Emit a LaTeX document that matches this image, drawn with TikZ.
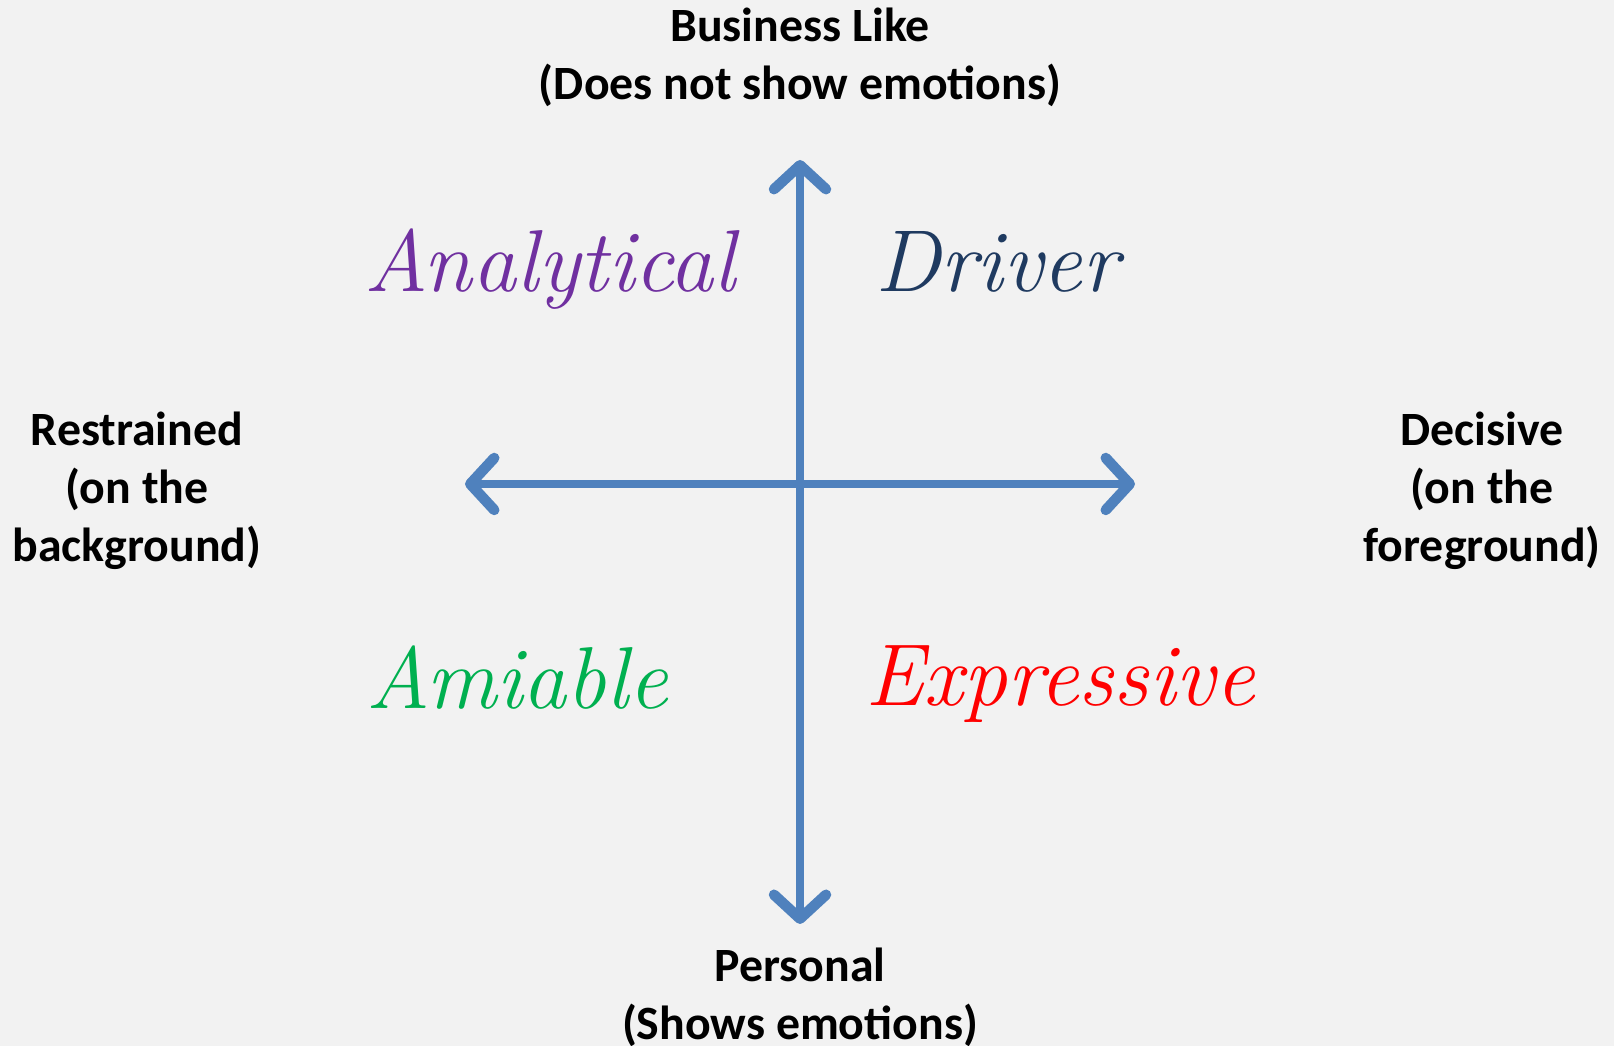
\documentclass[tikz,border=0pt]{standalone}
\usepackage{fontspec}
\setsansfont{Carlito}
\usetikzlibrary{arrows.meta}

\definecolor{axisblue}{HTML}{4F81BD}
\definecolor{backgr}{HTML}{F2F2F2}
\definecolor{anpurple}{HTML}{7030A0}
\definecolor{drblue}{HTML}{1F3A60}
\definecolor{amgreen}{HTML}{00B050}
\definecolor{exred}{HTML}{FF0000}

\tikzset{
  barb/.tip={Straight Barb[length=2.4mm,width=5.2mm,line width=0.25mm 1,line cap=round,line join=round]},
  axis/.style={line width=0.8mm, color=axisblue, line cap=round, barb-barb},
  pole/.style={align=center, font=\sffamily\bfseries\fontsize{13.6}{16.5}\selectfont},
  kind/.style={anchor=base, font=\itshape\fontsize{25}{30}\selectfont}
}

\begin{document}
\begin{tikzpicture}
\useasboundingbox[fill=backgr] (0,0) rectangle (16.14,10.46);
% axes
\coordinate (top) at (8,8.86);
\coordinate (bottom) at (8,1.22);
\coordinate (left) at (4.65,5.62);
\coordinate (right) at (11.35,5.62);
\draw[axis] (bottom) -- (top);
\draw[axis] (left) -- (right);
% poles
\node[pole] (business) at (8,9.89) {Business Like\\(Does not show emotions)};
\node[pole] (personal) at (8,0.49) {Personal\\(Shows emotions)};
\node[pole] (restrained) at (1.37,5.55) {Restrained\\(on the\\background)};
\node[pole] (decisive) at (14.82,5.55) {Decisive\\(on the\\foreground)};
% quadrants
\node[kind, text=anpurple] (analytical) at (5.50,7.54) {Analytical};
\node[kind, text=drblue] (driver) at (9.97,7.54) {Driver};
\node[kind, text=amgreen] (amiable) at (5.17,3.37) {Amiable};
\node[kind, text=exred] (expressive) at (10.60,3.40) {Expressive};
\end{tikzpicture}
\end{document}
